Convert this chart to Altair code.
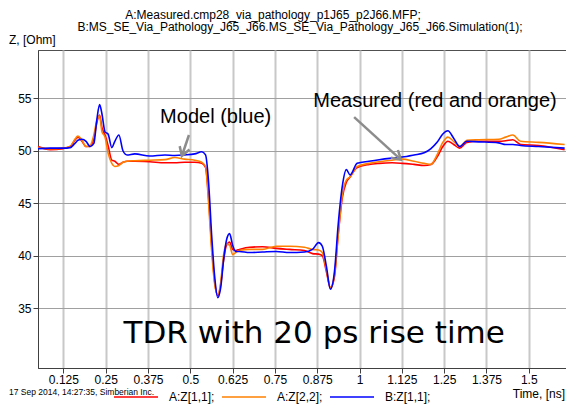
import math
import altair as alt
import pandas as pd

# ---------------- data ----------------
time_ns = [0.050, 0.086, 0.124, 0.145, 0.159, 0.168, 0.180, 0.192, 0.204, 0.215,
           0.224, 0.232, 0.239, 0.248, 0.257, 0.268, 0.277, 0.289, 0.301, 0.313,
           0.336, 0.380, 0.425, 0.454, 0.483, 0.513, 0.534, 0.545, 0.554, 0.563,
           0.572, 0.581, 0.590, 0.598, 0.607, 0.616, 0.625, 0.634, 0.645, 0.675,
           0.713, 0.754, 0.793, 0.837, 0.861, 0.879, 0.890, 0.902, 0.914, 0.926,
           0.937, 0.949, 0.961, 0.972, 0.993, 1.028, 1.058, 1.096, 1.126, 1.161,
           1.191, 1.211, 1.229, 1.246, 1.261, 1.278, 1.296, 1.317, 1.352, 1.411,
           1.432, 1.453, 1.476, 1.529, 1.606]

z_a11 = [50.4, 50.1, 50.2, 50.4, 51.0, 51.3, 50.9, 50.4, 50.4, 51.2,
         52.7, 53.4, 52.2, 51.5, 50.5, 49.1, 49.0, 48.7, 48.9, 49.0,
         49.0, 48.95, 48.85, 48.85, 48.9, 48.9, 48.8, 48.4, 45.5, 41.0,
         37.5, 36.2, 37.3, 39.5, 41.0, 41.3, 40.6, 40.5, 40.6, 40.8,
         40.85, 40.7, 40.6, 40.5, 40.2, 40.15, 40.0, 38.5, 36.9, 38.0,
         42.0, 45.5, 47.0, 47.5, 48.4, 48.7, 48.8, 48.85, 48.8, 48.7,
         48.6, 48.7, 49.4, 50.4, 50.9, 50.6, 50.25, 50.8, 50.9, 50.9,
         50.95, 51.05, 50.6, 50.5, 50.1]

z_a22 = [50.3, 50.2, 50.25, 50.4, 51.1, 51.4, 51.0, 50.4, 50.5, 51.5,
         52.9, 53.3, 51.8, 51.3, 49.8, 48.8, 48.5, 48.6, 48.9, 49.0,
         49.05, 49.1, 49.15, 49.35, 49.2, 49.1, 48.9, 48.5, 45.0, 40.5,
         37.3, 36.3, 37.5, 40.0, 41.1, 41.0, 40.1, 40.3, 40.5, 40.6,
         40.6, 40.9, 40.9, 40.8, 40.6, 40.55, 40.3, 38.7, 37.0, 38.2,
         42.0, 45.8, 47.2, 47.5, 48.5, 48.8, 48.95, 49.1, 49.2, 49.0,
         48.8, 48.7, 49.6, 50.8, 51.3, 50.9, 50.4, 51.0, 51.05, 51.1,
         51.3, 51.5, 50.9, 50.8, 50.6]

z_b11 = [50.2, 50.25, 50.25, 50.3, 50.7, 51.0, 51.1, 50.9, 50.4, 50.7,
         53.0, 54.4, 53.5, 51.8, 51.6, 50.3, 50.9, 51.5, 50.0, 49.6,
         49.7, 49.5, 49.6, 49.55, 49.6, 49.7, 49.9, 49.6, 47.0, 42.0,
         38.0, 36.0, 37.0, 39.5, 41.5, 42.1, 41.0, 40.4, 40.4, 40.3,
         40.35, 40.4, 40.3, 40.35, 40.6, 41.25, 40.9, 39.0, 36.8, 38.5,
         43.0, 46.6, 48.2, 47.7, 48.8, 49.0, 49.15, 49.3, 49.4, 49.6,
         49.8, 50.2, 50.8, 51.6, 51.9, 51.2, 50.4, 50.9, 50.85, 50.75,
         50.6, 50.6, 50.5, 50.4, 50.25]

series_names = ["A:Z[1,1];", "A:Z[2,2];", "B:Z[1,1];"]
series_colors = ["#ff0000", "#ff8000", "#0000ff"]

x_ticks = [0.125, 0.25, 0.375, 0.5, 0.625, 0.75, 0.875, 1.0, 1.125, 1.25, 1.375, 1.5]
y_ticks = [35, 40, 45, 50, 55]

title_line1 = "A:Measured.cmp28_via_pathology_p1J65_p2J66.MFP;"
title_line2 = "B:MS_SE_Via_Pathology_J65_J66.MS_SE_Via_Pathology_J65_J66.Simulation(1);"
y_title = "Z, [Ohm]"
x_title = "Time, [ns]"
stamp = "17 Sep 2014, 14:27:35, Simberian Inc."

note_text = ["Model (blue)", "Measured (red and orange)"]
note_t = [0.575, 1.223]
note_z = [53.22, 54.74]
arrow_t0 = [0.496, 0.984]
arrow_z0 = [51.5, 53.2]
arrow_t1 = [0.475, 1.122]
arrow_z1 = [49.5, 49.15]

banner_text = ["TDR with 20 ps rise time"]
banner_t = [0.866]
banner_z = [32.56]

# ---------------- layout ----------------
W, H = 528, 318
X_DOM = [0.05, 1.61]
Y_DOM = [29.3, 59.6]
FONT = "Liberation Sans"

rows = []
for name, vals in zip(series_names, [z_a11, z_a22, z_b11]):
    for t, z in zip(time_ns, vals):
        rows.append({"t": t, "z": z, "series": name})
df = pd.DataFrame(rows)

xscale = alt.Scale(domain=X_DOM, nice=False, zero=False)
yscale = alt.Scale(domain=Y_DOM, nice=False, zero=False)

lines = alt.Chart(df).mark_line(strokeWidth=1.6, interpolate="monotone").encode(
    x=alt.X("t:Q", scale=xscale,
            axis=alt.Axis(values=x_ticks, labelExpr="format(datum.value, '.4~g')",
                          title=None, grid=True,
                          gridColor="#c8c8c8", gridWidth=2, tickSize=5,
                          tickColor="#404040", domainColor="#404040",
                          labelFont=FONT, labelFontSize=12, labelColor="#000000",
                          labelPadding=1, labelFlush=False)),
    y=alt.Y("z:Q", scale=yscale,
            axis=alt.Axis(values=y_ticks, title=None, grid=True,
                          gridColor="#a0a0a0", gridWidth=1, tickSize=5,
                          tickColor="#404040", domainColor="#404040",
                          labelFont=FONT, labelFontSize=12, labelColor="#000000",
                          labelPadding=2)),
    color=alt.Color("series:N",
                    scale=alt.Scale(domain=series_names, range=series_colors),
                    legend=alt.Legend(orient="none", legendX=75, legendY=324,
                                      direction="horizontal", title=None,
                                      symbolType="stroke", symbolSize=1936,
                                      symbolStrokeWidth=1.5, labelFont=FONT,
                                      labelFontSize=12, labelColor="#000000",
                                      labelOffset=10, columnPadding=4, padding=0)),
)

# arrows
px_per_t = W / (X_DOM[1] - X_DOM[0])
px_per_z = H / (Y_DOM[1] - Y_DOM[0])
angles = []
for a, b, c, d in zip(arrow_t0, arrow_z0, arrow_t1, arrow_z1):
    dx = (c - a) * px_per_t
    dy = (b - d) * px_per_z
    angles.append(math.degrees(math.atan2(-dx, dy)) % 360)
arrows_df = pd.DataFrame({"t0": arrow_t0, "z0": arrow_z0, "t1": arrow_t1,
                          "z1": arrow_z1, "ang": angles})

arrow_shaft = alt.Chart(arrows_df).mark_rule(color="#8c8c8c", strokeWidth=2.5).encode(
    x=alt.X("t0:Q", scale=xscale), y=alt.Y("z0:Q", scale=yscale),
    x2="t1:Q", y2="z1:Q")
arrow_head = alt.Chart(arrows_df).mark_point(
    shape="M-0.6,-1L0,0L0.6,-1", filled=False, color="#8c8c8c",
    strokeWidth=2.5, size=300, opacity=1).encode(
    x=alt.X("t1:Q", scale=xscale), y=alt.Y("z1:Q", scale=yscale),
    angle=alt.Angle("ang:Q", scale=None))

notes = alt.Chart(pd.DataFrame({"t": note_t, "z": note_z, "label": note_text})).mark_text(
    font=FONT, fontSize=20, color="#000000", align="center", baseline="middle").encode(
    x=alt.X("t:Q", scale=xscale), y=alt.Y("z:Q", scale=yscale), text="label:N")

banner = alt.Chart(pd.DataFrame({"t": banner_t, "z": banner_z, "label": banner_text})).mark_text(
    font="DejaVu Sans", fontSize=31, color="#000000", align="center", baseline="middle").encode(
    x=alt.X("t:Q", scale=xscale), y=alt.Y("z:Q", scale=yscale), text="label:N")


def fixed_text(txt, x, y, size=12, align="left"):
    return alt.Chart(pd.DataFrame({"label": [txt]})).mark_text(
        font=FONT, fontSize=size, color="#000000", align=align, baseline="middle").encode(
        x=alt.value(x), y=alt.value(y), text="label:N")


texts = [
    fixed_text(title_line1, 235, -35.5, 12, "center"),
    fixed_text(title_line2, 262, -23, 12, "center"),
    fixed_text(y_title, -29, -10.5, 12, "left"),
    fixed_text(x_title, 527, 344, 12, "right"),
    fixed_text(stamp, -29, 342, 8.5, "left"),
]

chart = alt.layer(lines, arrow_shaft, arrow_head, notes, banner, *texts).properties(
    width=W, height=H,
    autosize=alt.AutoSizeParams(type="none"),
    padding={"left": 30, "top": 42, "right": 0, "bottom": 37},
    background="#ffffff",
).configure_view(stroke="#505050", strokeWidth=1)

chart.save("out.html", embed_options={"renderer": "svg", "actions": False})
